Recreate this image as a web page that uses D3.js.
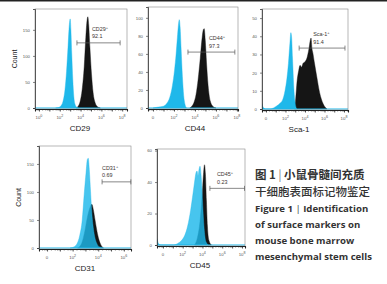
<!DOCTYPE html>
<html><head><meta charset="utf-8">
<script src="https://cdn.jsdelivr.net/npm/d3@7"></script>
<style>
body{margin:0;background:#fff}
svg{display:block}
</style></head><body>
<svg width="387" height="284"></svg>
<script>
const panelNames = ["CD29", "CD44", "Sca-1", "CD31", "CD45"];
const gateNames = ["CD29", "CD44", "Sca-1", "CD31", "CD45"];
const gateValues = ["92.1", "97.3", "91.4", "0.69", "0.23"];
const gateRanges = [[3.65, 7.8], [3.33, 7.8], [3.4, 8.1], [4.3, 6.55], [4.75, 8.25]];
const gateLevels = [125, 62, 33.5, 118, 36];
const yTicks = [[0, 50, 100, 150], [0, 20, 40, 60, 80, 100], [0, 10, 20, 30, 40, 50], [0, 50, 100, 150], [0, 20, 40, 60]];
const xTickExps = [[0, 2, 4, 6, 8], [0, 2, 4, 6, 8], [0, 2, 4, 6, 8], [0, 2, 4, 6], [0, 2, 4, 6, 8]];
const zeroLabels = ["10^0", "0", "0", "0", "0"];

// [log10 fluorescence, count]
const cd29Control = [[1.6,0],[1.9,1],[2.1,4],[2.3,12],[2.5,35],[2.65,70],[2.8,120],[2.92,160],[3.0,171],[3.07,150],[3.15,105],[3.25,55],[3.35,22],[3.45,8],[3.6,2],[3.8,0]];
const cd29Stained = [[3.6,0],[3.75,3],[3.95,12],[4.15,35],[4.35,80],[4.5,135],[4.62,168],[4.7,175],[4.78,160],[4.9,115],[5.05,65],[5.2,30],[5.4,10],[5.6,3],[5.9,0]];
const cd44Control = [[0.0,0],[0.5,1],[1.0,2],[1.3,5],[1.6,12],[1.85,25],[2.05,42],[2.2,60],[2.32,78],[2.42,92],[2.5,98],[2.58,90],[2.68,65],[2.8,35],[2.92,14],[3.05,4],[3.2,0]];
const cd44Stained = [[3.5,0],[3.7,2],[3.9,6],[4.1,15],[4.3,32],[4.5,55],[4.68,78],[4.8,87],[4.88,88],[4.98,75],[5.1,50],[5.25,25],[5.45,8],[5.7,2],[6.0,0]];
const sca1Control = [[-0.41,3],[-0.3,1],[0.0,0],[0.4,0],[0.9,1],[1.4,3],[1.7,5],[1.95,10],[2.15,17],[2.3,25],[2.45,36],[2.55,42],[2.62,40],[2.72,28],[2.85,12],[2.95,5],[3.15,0]];
const sca1Stained = [[2.9,0],[3.05,6],[3.18,15],[3.35,21],[3.49,24],[3.65,23],[3.79,25],[4.0,26],[4.2,28],[4.4,33],[4.55,38],[4.62,39],[4.72,33],[4.8,31],[4.95,26],[5.2,18],[5.5,9],[5.85,3],[6.25,0]];
const cd31Control = [[1.8,0],[2.1,2],[2.35,8],[2.55,22],[2.75,50],[2.9,95],[3.05,135],[3.15,158],[3.22,160],[3.3,140],[3.4,100],[3.5,62],[3.65,30],[3.85,10],[4.1,2],[4.4,0]];
const cd31Stained = [[2.4,0],[2.7,8],[2.95,30],[3.15,55],[3.35,72],[3.5,78],[3.62,68],[3.75,50],[3.9,30],[4.05,15],[4.2,6],[4.4,0]];
const cd45Control = [[-0.6,4],[-0.45,1],[-0.2,0],[1.0,0],[1.5,1],[1.9,3],[2.2,6],[2.5,12],[2.8,22],[3.05,33],[3.2,40],[3.35,46],[3.45,47],[3.55,44],[3.65,48],[3.75,50],[3.85,45],[3.95,35],[4.05,22],[4.2,8],[4.35,2],[4.6,0]];
const cd45Stained = [[3.2,0],[3.5,5],[3.75,15],[3.95,30],[4.1,45],[4.2,51],[4.3,45],[4.4,28],[4.5,12],[4.65,3],[4.9,0]];

const controls = [cd29Control, cd44Control, sca1Control, cd31Control, cd45Control];
const stained = [cd29Stained, cd44Stained, sca1Stained, cd31Stained, cd45Stained];

const layout = [
  { x0: 35, x1: 127, y0: 9, y1: 109, xd: [-0.38, 8.46], ymax: 190, gateDx: 15, labelDx: -1, countLabel: true },
  { x0: 148, x1: 238, y0: 7, y1: 109, xd: [-0.48, 8.1], ymax: 112, gateDx: 21, labelDx: 2 },
  { x0: 262, x1: 348, y0: 9, y1: 110, xd: [-0.41, 8.41], ymax: 55, gateDx: 14, labelDx: -6 },
  { x0: 39, x1: 131, y0: 146, y1: 249, xd: [-0.63, 6.56], ymax: 182, gateDx: 0, labelDx: 0, countLabel: true },
  { x0: 157, x1: 245, y0: 149, y1: 246, xd: [-0.6, 8.3], ymax: 61, gateDx: 7, labelDx: -1 }
];

const cyan = "#1fb8ea";
const svg = d3.select("svg");

svg.append("rect").attr("x", 0).attr("y", 0).attr("width", 387).attr("height", 1.5).attr("fill", "#222");

layout.forEach((L, i) => {
  const x = d3.scaleLinear().domain(L.xd).range([L.x0, L.x1]);
  const y = d3.scaleLinear().domain([0, L.ymax]).range([L.y1 - 1, L.y0]);
  const g = svg.append("g");

  g.append("clipPath").attr("id", "clip" + i)
    .append("rect").attr("x", L.x0).attr("y", L.y0).attr("width", L.x1 - L.x0).attr("height", L.y1 - L.y0);

  const area = d3.area()
    .x(d => x(d[0]))
    .y0(y(0))
    .y1(d => y(d[1]))
    .curve(d3.curveMonotoneX);

  const plot = g.append("g").attr("clip-path", `url(#clip${i})`);

  plot.append("path")
    .datum(stained[i])
    .attr("d", area)
    .attr("fill", "#151515")
    .attr("stroke", "#151515")
    .attr("stroke-width", 0.4);

  plot.append("path")
    .datum(controls[i])
    .attr("d", area)
    .attr("fill", cyan)
    .attr("fill-opacity", i >= 3 ? 0.82 : 1)
    .attr("stroke", cyan)
    .attr("stroke-width", 0.4);

  // baseline
  plot.append("line")
    .attr("x1", L.x0).attr("x2", L.x1)
    .attr("y1", y(0)).attr("y2", y(0))
    .attr("stroke", cyan).attr("stroke-width", 1.1);

  // frame
  g.append("rect")
    .attr("x", L.x0).attr("y", L.y0)
    .attr("width", L.x1 - L.x0).attr("height", L.y1 - L.y0)
    .attr("fill", "none").attr("stroke", "#888").attr("stroke-width", 0.6);

  // y axis
  const ya = g.append("g")
    .attr("transform", `translate(${L.x0},0)`)
    .call(d3.axisLeft(y).tickValues(yTicks[i]).tickSize(2).tickPadding(3));
  ya.select(".domain").attr("stroke", "#333").attr("stroke-width", 0.8);
  ya.selectAll("line").attr("stroke", "#333").attr("stroke-width", 0.6);
  ya.selectAll("text")
    .attr("font-size", "4.3px")
    .attr("font-family", "Liberation Sans, Arial, sans-serif")
    .attr("fill", "#555");

  // x axis, minor ticks
  const minors = [];
  for (let n = Math.floor(L.xd[0]); n < L.xd[1]; n++) {
    for (let k = 2; k < 10; k += 2) {
      const v = n + Math.log10(k);
      if (v > L.xd[0] && v < L.xd[1]) minors.push(v);
    }
  }
  const xm = g.append("g")
    .attr("transform", `translate(0,${L.y1})`)
    .call(d3.axisBottom(x).tickValues(minors).tickSize(1.5).tickFormat(""));
  xm.select(".domain").remove();
  xm.selectAll("line").attr("stroke", "#333").attr("stroke-width", 0.6);

  const xa = g.append("g")
    .attr("transform", `translate(0,${L.y1})`)
    .call(d3.axisBottom(x).tickValues(d3.range(Math.ceil(L.xd[0]), L.xd[1])).tickSize(2.5).tickPadding(6).tickFormat(""));
  xa.select(".domain").attr("stroke", "#222").attr("stroke-width", 1.1);
  xa.selectAll("line").attr("stroke", "#222").attr("stroke-width", 0.8);

  const tl = g.append("g").selectAll("text")
    .data(xTickExps[i])
    .join("text")
    .attr("x", d => x(d))
    .attr("y", L.y1 + 10)
    .attr("text-anchor", "middle")
    .attr("font-size", "4.3px")
    .attr("font-family", "Liberation Sans, Arial, sans-serif")
    .attr("fill", "#555");
  tl.each(function (d) {
    const t = d3.select(this);
    if (d === 0 && zeroLabels[i] === "0") { t.text("0"); return; }
    t.append("tspan").text("10");
    t.append("tspan").attr("dy", -2.5).attr("font-size", "3.6px").text(d);
  });

  // gate
  const gy = y(gateLevels[i]);
  const gx0 = x(gateRanges[i][0]), gx1 = x(gateRanges[i][1]);
  const gate = g.append("g").attr("stroke", "#555").attr("stroke-width", 0.7);
  gate.append("line").attr("x1", gx0).attr("x2", gx1).attr("y1", gy).attr("y2", gy);
  gate.append("line").attr("x1", gx0).attr("x2", gx0).attr("y1", gy - 2.5).attr("y2", gy + 2.5);
  gate.append("line").attr("x1", gx1).attr("x2", gx1).attr("y1", gy - 2.5).attr("y2", gy + 2.5);

  const gt = g.append("text")
    .attr("x", gx0 + L.gateDx)
    .attr("y", gy - 12)
    .attr("font-size", "5.4px")
    .attr("font-family", "Liberation Sans, Arial, sans-serif")
    .attr("fill", "#3a3330");
  gt.append("tspan").text(gateNames[i]);
  gt.append("tspan").attr("dy", -2).attr("font-size", "4px").text("+");
  g.append("text")
    .attr("x", gx0 + L.gateDx)
    .attr("y", gy - 4.5)
    .attr("font-size", "5.4px")
    .attr("font-family", "Liberation Sans, Arial, sans-serif")
    .attr("fill", "#3a3330")
    .text(gateValues[i]);

  // axis title
  g.append("text")
    .attr("x", (L.x0 + L.x1) / 2 + L.labelDx)
    .attr("y", L.y1 + 22)
    .attr("text-anchor", "middle")
    .attr("font-size", "8px")
    .attr("font-family", "Liberation Sans, Arial, sans-serif")
    .attr("fill", "#222")
    .text(panelNames[i]);

  if (L.countLabel) {
    g.append("text")
      .attr("transform", `translate(${L.x0 - 18},${(L.y0 + L.y1) / 2}) rotate(-90)`)
      .attr("text-anchor", "middle")
      .attr("font-size", "7px")
      .attr("font-family", "Liberation Sans, Arial, sans-serif")
      .attr("fill", "#222")
      .text("Count");
  }
});

// caption
const captionZh = ["小鼠骨髓间充质", "干细胞表面标记物鉴定"];
const captionEn = ["Identification", "of surface markers on", "mouse bone marrow", "mesenchymal stem cells"];
const cap = svg.append("g").attr("fill", "#333");

const l1 = cap.append("text").attr("x", 255).attr("y", 179)
  .attr("font-family", "Noto Sans CJK SC").attr("font-weight", 700).attr("font-size", "11.5px");
l1.append("tspan").text("图 1");
l1.append("tspan").attr("font-weight", 300).text("  |  ");
l1.append("tspan").text(captionZh[0]);

cap.append("text").attr("x", 255).attr("y", 196)
  .attr("font-family", "Noto Sans CJK SC").attr("font-weight", 500).attr("font-size", "11.5px")
  .text(captionZh[1]);

const l3 = cap.append("text").attr("x", 255).attr("y", 212)
  .attr("font-family", "Open Sans").attr("font-weight", 700).attr("font-size", "9.6px");
l3.append("tspan").text("Figure 1 ");
l3.append("tspan").attr("font-weight", 400).text(" |  ");
l3.append("tspan").text(captionEn[0]);

captionEn.slice(1).forEach((t, j) => {
  cap.append("text").attr("x", 255).attr("y", 227.5 + j * 16)
    .attr("font-family", "Open Sans").attr("font-weight", 700).attr("font-size", "9.6px")
    .text(t);
});
</script>
</body></html>
